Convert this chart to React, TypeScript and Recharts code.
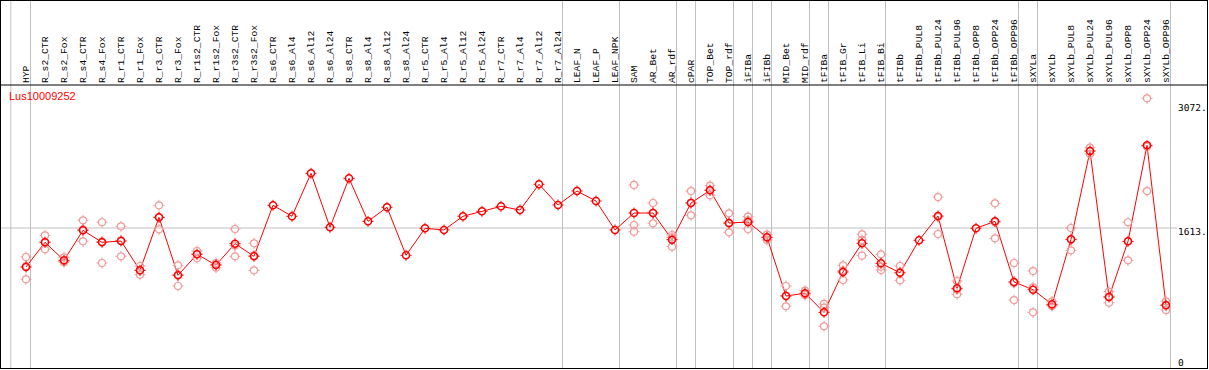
import { LineChart, Line, XAxis, YAxis, ReferenceLine } from "recharts";

const categories = [
  "HYP", "R_s2_CTR", "R_s2_Fox", "R_s4_CTR", "R_s4_Fox", "R_r1_CTR", "R_r1_Fox",
  "R_r3_CTR", "R_r3_Fox", "R_r1s2_CTR", "R_r1s2_Fox", "R_r3s2_CTR", "R_r3s2_Fox",
  "R_s6_CTR", "R_s6_Al4", "R_s6_Al12", "R_s6_Al24", "R_s8_CTR", "R_s8_Al4",
  "R_s8_Al12", "R_s8_Al24", "R_r5_CTR", "R_r5_Al4", "R_r5_Al12", "R_r5_Al24",
  "R_r7_CTR", "R_r7_Al4", "R_r7_Al12", "R_r7_Al24", "LEAF_N", "LEAF_P", "LEAF_NPK",
  "SAM", "AR_Bet", "AR_rdf", "cPAR", "TOP_Bet", "TOP_rdf", "iFIBa", "iFIBb",
  "MID_Bet", "MID_rdf", "tFIBa", "tFIB_Gr", "tFIB_Li", "tFIB_Bi", "tFIBb",
  "tFIBb_PUL8", "tFIBb_PUL24", "tFIBb_PUL96", "tFIBb_OPP8", "tFIBb_OPP24",
  "tFIBb_OPP96", "sXYLa", "sXYLb", "sXYLb_PUL8", "sXYLb_PUL24", "sXYLb_PUL96",
  "sXYLb_OPP8", "sXYLb_OPP24", "sXYLb_OPP96",
];

// mean expression per sample
const meanValues = [
  1157, 1446, 1235, 1586, 1446, 1461, 1118, 1738, 1060, 1305, 1180, 1430, 1282,
  1878, 1750, 2252, 1621, 2194, 1691, 1855, 1294, 1609, 1590, 1750, 1808,
  1866, 1823, 2124, 1882, 2045, 1928, 1590,
  1788, 1788, 1477, 1905, 2053, 1671, 1683, 1504, 818, 850, 627, 1099, 1434,
  1200, 1089, 1469, 1753, 908, 1609, 1691, 982, 892, 721, 1481, 2513, 806,
  1457, 2579, 709,
];

// replicates (null = no replicate shown)
const N = null;
const rep1 = [
  1274, 1527, 1270, 1703, 1680, 1633, 1169, 1878, 1177, 1344, 1204, 1601, 1434,
  N, N, N, N, N, N, N, N, N, N, N, N, N, N, N, N, N, N, N,
  2116, 1905, 1531, 2045, 2108, 1785, 1745, 1535, 935, 880, 725, 1177, 1539,
  1305, 1169, N, 1975, 993, N, 1901, 1204, 1110, 756, 1613, 2552, 869,
  1680, 3129, 756,
];
const rep2 = [
  1013, 1364, 1212, 1457, 1204, 1282, 1067, 1598, 935, 1262, 1149, 1282, 1118,
  N, N, N, N, N, N, N, N, N, N, N, N, N, N, N, N, N, N, N,
  1570, 1668, 1395, 1761, 1995, 1563, 1601, 1473, 698, 830, 464, 1005, 1289,
  1122, 1001, N, 1543, 838, N, 1492, 771, 627, 700, 1352, 2478, 740,
  1235, 2045, 655,
];
const rep3 = [
  1169, 1447, 1223, 1598, 1454, 1468, 1118, 1738, 1068, 1309, 1187, 1407, 1294,
  N, N, N, N, N, N, N, N, N, N, N, N, N, N, N, N, N, N, N,
  1648, 1791, 1505, 1909, 2056, 1665, 1703, 1504, 821, 840, 682, 1115, 1473,
  1161, 1097, N, 1741, 893, N, 1680, 971, 920, 707, 1478, 2509, 809,
  1456, 2563, 716,
];

const yTicks = [0, 1613, 3072];
// last sample index of each group (vertical separators)
const groupEnds = [-1, 0, 28, 31, 34, 35, 37, 38, 39, 41, 42, 45, 52, 53, 60];

const data = categories.map((name, i) => ({
  idx: i,
  name,
  mean: meanValues[i],
  r1: rep1[i],
  r2: rep2[i],
  r3: rep3[i],
}));

const W = 1209;
const H = 370;
const X_DOMAIN: [number, number] = [-1.3158, 60.2105];
const Y_DOMAIN: [number, number] = [-23.4, 3284.4];
const Y_TOP_EDGE = 4278;

const Marker = ({ cx, cy, color, sw }: any) => {
  if (cx == null || cy == null || isNaN(cy)) return <g />;
  return (
    <g stroke={color} fill="none">
      <circle cx={cx} cy={cy} r={3.5} strokeWidth={sw} />
      <path
        strokeWidth={1}
        d={`M${cx} ${cy - 5.5}V${cy - 3.5}M${cx} ${cy + 3.5}V${cy + 5.5}M${cx - 5.5} ${cy}H${cx - 3.5}M${cx + 3.5} ${cy}H${cx + 5.5}`}
      />
    </g>
  );
};

const pinkDot = (key: string) => (p: any) =>
  p.value == null ? (
    <g key={`${key}-${p.index}`} />
  ) : (
    <Marker key={`${key}-${p.index}`} cx={p.cx} cy={p.cy} color="#f09a9a" sw={1.2} />
  );

const redDot = (p: any) => (
  <Marker key={`m-${p.index}`} cx={p.cx} cy={p.cy} color="#ff0000" sw={1.5} />
);

const CatTick = ({ x, y, payload }: any) => {
  const label = categories[payload.value];
  if (!label) return <g />;
  return (
    <text
      x={x + 2.7}
      y={y}
      transform={`rotate(-90 ${x + 2.7} ${y})`}
      textAnchor="start"
      fontFamily="Liberation Mono"
      fontSize={9.7}
      fill="#000"
    >
      {label}
    </text>
  );
};

const ValTick = ({ x, y, payload }: any) => (
  <text
    x={x}
    y={y + (payload.value === 0 ? 0 : 7.5)}
    textAnchor="start"
    fontFamily="DejaVu Sans Mono"
    fontSize={9.5}
    fill="#000"
  >
    {payload.value === 0 ? "0" : `${payload.value}.`}
  </text>
);

export default function App() {
  return (
    <div style={{ position: "absolute", left: 0, top: 0, width: W, height: H, background: "#fff" }}>
      <LineChart
        width={W}
        height={H}
        data={data}
        margin={{ top: 0, right: 0, bottom: 2, left: 1 }}
      >
        <XAxis
          dataKey="idx"
          type="number"
          orientation="top"
          height={85}
          domain={X_DOMAIN}
          allowDataOverflow
          ticks={data.map((d) => d.idx)}
          interval={0}
          axisLine={false}
          tickLine={false}
          tickSize={0}
          tickMargin={2}
          tick={<CatTick />}
        />
        <YAxis
          type="number"
          orientation="right"
          width={39}
          domain={Y_DOMAIN}
          allowDataOverflow
          ticks={yTicks}
          interval={0}
          axisLine={false}
          tickLine={false}
          tickSize={0}
          tickMargin={8}
          tick={<ValTick />}
        />
        {groupEnds.map((g) => (
          <ReferenceLine
            key={`g${g}`}
            segment={[
              { x: g < 0 ? -0.8 : g + 0.237, y: Y_DOMAIN[0] },
              { x: g < 0 ? -0.8 : g + 0.237, y: Y_TOP_EDGE },
            ]}
            stroke="#c0c0c0"
            strokeWidth={1}
            ifOverflow="visible"
          />
        ))}
        <ReferenceLine
          segment={[
            { x: -1.368, y: 1613 },
            { x: 60.58, y: 1613 },
          ]}
          stroke="#c0c0c0"
          strokeWidth={1}
          ifOverflow="visible"
        />
        <ReferenceLine
          segment={[
            { x: -1.368, y: Y_DOMAIN[1] },
            { x: 62.16, y: Y_DOMAIN[1] },
          ]}
          stroke="#000"
          strokeWidth={1}
          ifOverflow="visible"
        />
        {(["r1", "r2", "r3"] as const).map((k) => (
          <Line
            key={k}
            dataKey={k}
            stroke="none"
            dot={pinkDot(k)}
            activeDot={false}
            isAnimationActive={false}
            connectNulls={false}
          />
        ))}
        <Line
          dataKey="mean"
          type="linear"
          stroke="#ff0000"
          strokeWidth={1}
          dot={redDot}
          activeDot={false}
          isAnimationActive={false}
        />
      </LineChart>
      <div
        style={{
          position: "absolute",
          left: 9,
          top: 91,
          fontFamily: "Liberation Sans",
          fontSize: 11,
          lineHeight: "11px",
          color: "#ff0000",
        }}
      >
        Lus10009252
      </div>
      <div
        style={{
          position: "absolute",
          left: 0,
          top: 0,
          width: 1208,
          height: 369,
          border: "1px solid #000",
          boxSizing: "border-box",
          pointerEvents: "none",
        }}
      />
    </div>
  );
}
